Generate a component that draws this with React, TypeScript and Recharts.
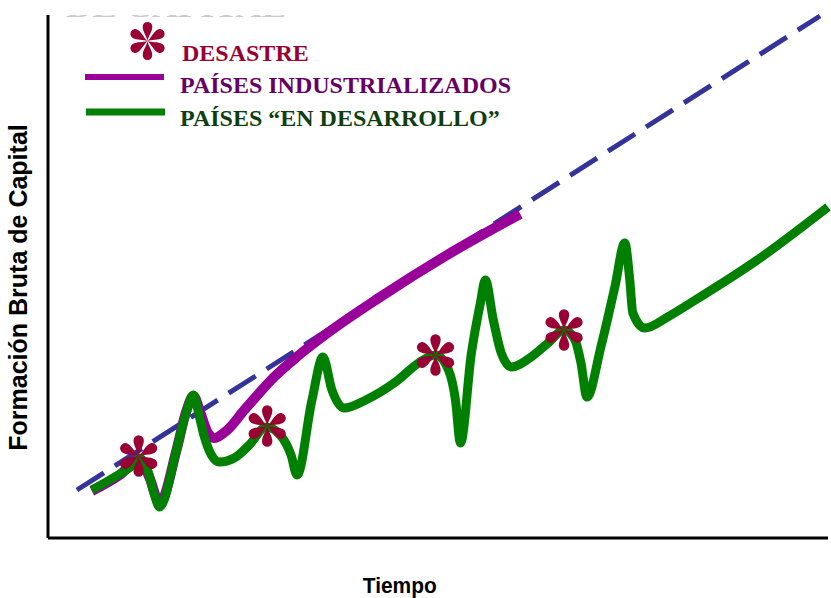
import React from 'react';
import { ComposedChart, Line, Scatter, XAxis, YAxis, Legend, Label } from 'recharts';

// Tiempo (x) and Formación Bruta de Capital (y), arbitrary units 0–100
const tendenciaTiempo = [3.72, 99.36];
const tendenciaCapital = [9.18, 99.81];

const industrializadosTiempo = [5.64, 9.23, 11.79, 13.08, 14.36, 16.54, 17.69, 18.72, 19.62, 20.51, 21.41, 23.08, 25.26, 27.18, 29.1, 32.31, 36.15, 42.56, 51.15, 60.77];
const industrializadosCapital = [8.99, 12.05, 15.11, 11.47, 6.69, 16.83, 23.71, 27.15, 23.9, 20.27, 19.12, 20.65, 24.47, 27.72, 30.78, 34.99, 39.39, 45.89, 53.92, 61.95];

const desarrolloTiempo = [5.64, 8.59, 10.77, 11.79, 12.82, 13.59, 14.36, 16.54, 17.69, 18.72, 19.49, 20.13, 21.03, 22.05, 23.97, 25.9, 28.08, 30.0, 31.28, 32.05, 33.97, 35.38, 36.54, 38.08, 40.9, 44.74, 47.69, 49.87, 51.54, 52.44, 53.08, 54.49, 55.64, 56.28, 57.31, 58.33, 59.62, 62.18, 64.36, 66.41, 67.82, 68.59, 69.36, 71.15, 72.95, 74.23, 74.87, 75.26, 76.79, 79.74, 82.69, 91.28, 100.38];
const desarrolloCapital = [9.18, 11.66, 13.77, 15.3, 13.0, 8.8, 5.93, 16.83, 23.52, 27.34, 23.14, 19.31, 15.87, 14.53, 15.3, 17.78, 21.22, 19.5, 15.87, 12.05, 26.39, 34.61, 28.3, 24.86, 26.39, 29.83, 33.46, 34.99, 32.12, 26.39, 18.16, 35.37, 44.93, 49.33, 41.68, 35.37, 32.7, 34.61, 37.28, 39.77, 37.86, 33.46, 26.96, 36.52, 47.99, 56.41, 49.33, 43.02, 40.15, 42.26, 44.93, 53.15, 63.29];

const desastreTiempo = [11.67, 28.21, 49.87, 66.41];
const desastreCapital = [15.68, 21.41, 34.99, 39.77];

const legendLabels = ['DESASTRE', 'PAÍSES INDUSTRIALIZADOS', 'PAÍSES “EN DESARROLLO”'];
const topLabel = 'DE CAPITAL';
const xTitle = 'Tiempo';
const yTitle = 'Formación Bruta de Capital';

const zip = (xs: number[], ys: number[]) => xs.map((x, i) => ({ x, y: ys[i] }));
const tendencia = zip(tendenciaTiempo, tendenciaCapital);
const industrializados = zip(industrializadosTiempo, industrializadosCapital);
const desarrollo = zip(desarrolloTiempo, desarrolloCapital);
const desastres = zip(desastreTiempo, desastreCapital);

const C_DASH = '#333399';
const C_PURPLE = '#990099';
const C_GREEN = '#008000';
const C_STAR = '#990033';

const PETAL = 'M 0 0 C -0.8 -5, -5.2 -10, -5.2 -15.5 A 5.2 5.2 0 1 1 5.2 -15.5 C 5.2 -10, 0.8 -5, 0 0 Z';

const Asterisk = ({ cx, cy, scale = 1 }: { cx: number; cy: number; scale?: number }) => (
  <g transform={`translate(${cx},${cy}) scale(${scale})`}>
    {[0, 60, 120, 180, 240, 300].map((a) => (
      <path key={a} d={PETAL} transform={`rotate(${a})`} fill={C_STAR} />
    ))}
  </g>
);

const serif = '"Liberation Serif", "Times New Roman", serif';
const sans = '"Liberation Sans", Arial, sans-serif';

const LegendGraphic = () => (
  <svg width={560} height={140} style={{ display: 'block', overflow: 'visible' }}>
    <defs>
      <clipPath id="topclip">
        <rect x={0} y={15} width={400} height={3} />
      </clipPath>
    </defs>
    <text x={66} y={17} fontFamily={serif} fontWeight="bold" fontSize={26} fill="#c8c8d6"
      textLength={220} lengthAdjust="spacingAndGlyphs" clipPath="url(#topclip)">{topLabel}</text>
    <Asterisk cx={147.5} cy={41} scale={0.92} />
    <text x={182} y={61} fontFamily={serif} fontWeight="bold" fontSize={24} fill={C_STAR}>{legendLabels[0]}</text>
    <line x1={85} x2={164} y1={77} y2={77} stroke={C_PURPLE} strokeWidth={6} />
    <text x={180} y={93} fontFamily={serif} fontWeight="bold" fontSize={24} fill="#660066">{legendLabels[1]}</text>
    <line x1={86} x2={165} y1={112} y2={112} stroke={C_GREEN} strokeWidth={7} />
    <text x={180} y={126} fontFamily={serif} fontWeight="bold" fontSize={24} fill="#0f3f10">{legendLabels[2]}</text>
  </svg>
);

const XTitle = (props: any) => {
  const vb = props.viewBox || {};
  const x = vb.x + vb.width * 0.451;
  const y = vb.y + 55;
  return (
    <text x={x} y={y} textAnchor="middle" fontFamily={sans} fontWeight="bold" fontSize={22} fill="#000"
      textLength={74} lengthAdjust="spacingAndGlyphs">{xTitle}</text>
  );
};

const YTitle = (props: any) => {
  const vb = props.viewBox || {};
  const x = vb.x - 20;
  const y = vb.y + vb.height * 0.521;
  return (
    <text x={x} y={y} textAnchor="middle" transform={`rotate(-90, ${x}, ${y})`} fontFamily={sans}
      fontWeight="bold" fontSize={25} fill="#000">{yTitle}</text>
  );
};

export default function App() {
  return (
    <div style={{ position: 'absolute', left: 0, top: 0, background: '#fff' }}>
      <ComposedChart width={831} height={598} margin={{ top: 15, right: 3, bottom: 59, left: 47 }}>
        <XAxis type="number" dataKey="x" domain={[0, 100]} tick={false} tickLine={false}
          axisLine={{ stroke: '#000', strokeWidth: 3 }} height={1}>
          <Label content={<XTitle />} />
        </XAxis>
        <YAxis type="number" dataKey="y" domain={[0, 100]} tick={false} tickLine={false}
          axisLine={{ stroke: '#000', strokeWidth: 3 }} width={1}>
          <Label content={<YTitle />} />
        </YAxis>
        <Legend layout="horizontal" verticalAlign="middle" align="center"
          wrapperStyle={{ left: 0, top: 0, width: 560, height: 140 }} content={() => <LegendGraphic />} />
        <Line data={tendencia} dataKey="y" type="linear" stroke={C_DASH} strokeWidth={5} strokeDasharray="32 13"
          dot={false} activeDot={false} isAnimationActive={false} />
        <Line data={industrializados} dataKey="y" type="monotone" stroke={C_PURPLE} strokeWidth={10}
          dot={false} activeDot={false} isAnimationActive={false} />
        <Line data={desarrollo} dataKey="y" type="monotone" stroke={C_GREEN} strokeWidth={9}
          dot={false} activeDot={false} isAnimationActive={false} />
        <Scatter data={desastres} dataKey="y" isAnimationActive={false}
          shape={(p: any) => <Asterisk cx={p.cx} cy={p.cy} />} />
      </ComposedChart>
    </div>
  );
}
